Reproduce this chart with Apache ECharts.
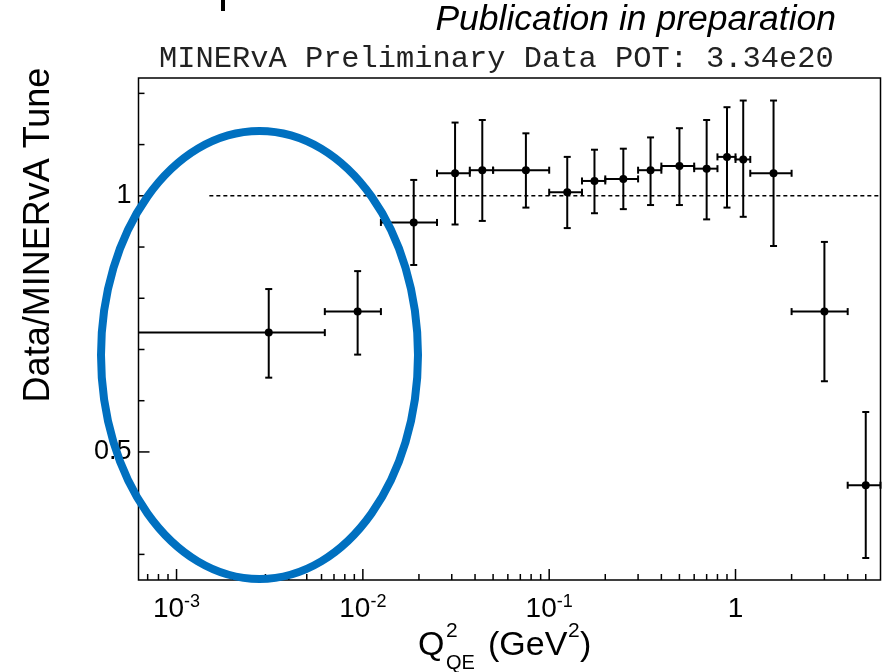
<!DOCTYPE html>
<html><head><meta charset="utf-8">
<script src="https://cdn.jsdelivr.net/npm/echarts@6/dist/echarts.min.js"></script>
<style>html,body{margin:0;padding:0;background:#fff}#c{width:884px;height:672px}</style>
</head><body><div id="c"></div>
<script>
// ---- data ----
const binLow    = [0, 0.00625, 0.0125, 0.025, 0.0375, 0.05, 0.1, 0.15, 0.2, 0.3, 0.4, 0.6, 0.8, 1.0, 1.2, 2.0, 4.0];
const binHigh   = [0.00625, 0.0125, 0.025, 0.0375, 0.05, 0.1, 0.15, 0.2, 0.3, 0.4, 0.6, 0.8, 1.0, 1.2, 2.0, 4.0, 6.0];
const binCenter = [0.003125, 0.009375, 0.01875, 0.03125, 0.04375, 0.075, 0.125, 0.175, 0.25, 0.35, 0.5, 0.7, 0.9, 1.1, 1.6, 3.0, 5.0];
const ratio     = [0.733, 0.774, 0.948, 1.044, 1.050, 1.050, 1.007, 1.029, 1.033, 1.050, 1.058, 1.053, 1.076, 1.071, 1.044, 0.774, 0.435];
const ratioHigh = [0.818, 0.853, 1.031, 1.143, 1.148, 1.122, 1.076, 1.090, 1.092, 1.114, 1.132, 1.148, 1.173, 1.186, 1.186, 0.910, 0.578];
const ratioLow  = [0.645, 0.690, 0.865, 0.944, 0.951, 0.977, 0.937, 0.966, 0.974, 0.982, 0.982, 0.954, 0.977, 0.959, 0.902, 0.638, 0.293];
const refLine   = [[0.0015, 1], [6, 1]];
const xMajorTicks = [0.001, 0.01, 0.1, 1];
const xMinorTicks = [0.0007, 0.0008, 0.0009,
  0.002, 0.003, 0.004, 0.005, 0.006, 0.007, 0.008, 0.009,
  0.02, 0.03, 0.04, 0.05, 0.06, 0.07, 0.08, 0.09,
  0.2, 0.3, 0.4, 0.5, 0.6, 0.7, 0.8, 0.9,
  2, 3, 4, 5];
const yMajorTicks = [0.5, 1];
const yMinorTicks = [0.3, 0.4, 0.6, 0.7, 0.8, 0.9, 1.1, 1.2];
const yLabels = ['0.5', '1'];
const X_MIN = 0.000625, X_MAX = 6, Y_MIN = 0.25, Y_MAX = 1.23;

const chart = echarts.init(document.getElementById('c'), null, {renderer: 'canvas'});
const SANS = '"Liberation Sans", Arial, sans-serif';

const pointData = binCenter.map((c, i) => [c, ratio[i], ratioLow[i], ratioHigh[i], binLow[i], binHigh[i]]);
const xTickData = xMajorTicks.map(v => [v, 1, 1]).concat(xMinorTicks.map(v => [v, 1, 0]));
const yTickData = yMajorTicks.map(v => [1, v, 1]).concat(yMinorTicks.map(v => [1, v, 0]));

const option = {
  backgroundColor: '#fff',
  animation: false,
  grid: {left: 138.5, top: 78, width: 742, height: 502, show: true, borderColor: '#000', borderWidth: 1.5, backgroundColor: 'transparent'},
  xAxis: {
    type: 'log', logBase: 10, min: X_MIN, max: X_MAX,
    axisLine: {show: false}, axisTick: {show: false}, splitLine: {show: false}, minorTick: {show: false},
    axisLabel: {
      margin: 13, color: '#000', showMinLabel: false, showMaxLabel: false,
      formatter: v => {
        const e = Math.log10(v), r = Math.round(e);
        if (Math.abs(e - r) > 1e-6) return '';
        if (r === 0) return '{b|1}';
        return '{b|10}{s|' + r + '}';
      },
      rich: {
        b: {fontSize: 28, fontFamily: SANS, color: '#000', lineHeight: 32},
        s: {fontSize: 18, fontFamily: SANS, color: '#000', verticalAlign: 'top', lineHeight: 19}
      }
    }
  },
  yAxis: {
    type: 'value', min: Y_MIN, max: Y_MAX, interval: 0.25,
    axisLine: {show: false}, axisTick: {show: false}, splitLine: {show: false},
    axisLabel: {
      margin: 7, color: '#000', fontSize: 27, fontFamily: SANS,
      formatter: v => {
        for (let i = 0; i < yMajorTicks.length; i++) if (Math.abs(v - yMajorTicks[i]) < 1e-9) return yLabels[i];
        return '';
      }
    }
  },
  series: [
    {
      type: 'line', data: refLine, symbol: 'none', silent: true, z: 2,
      lineStyle: {color: '#000', width: 1.5, type: [4, 3]}
    },
    {
      type: 'custom', data: xTickData, silent: true, z: 3, clip: false,
      renderItem: (params, api) => {
        const p = api.coord([api.value(0), api.value(1)]);
        const cs = params.coordSys;
        const bottom = cs.y + cs.height;
        const len = api.value(2) ? 11 : 6;
        return {type: 'line', shape: {x1: p[0], y1: bottom, x2: p[0], y2: bottom - len}, style: {stroke: '#000', lineWidth: 1.5}};
      }
    },
    {
      type: 'custom', data: yTickData, silent: true, z: 3, clip: false,
      renderItem: (params, api) => {
        const p = api.coord([api.value(0), api.value(1)]);
        const cs = params.coordSys;
        const len = api.value(2) ? 11 : 6;
        return {type: 'line', shape: {x1: cs.x, y1: p[1], x2: cs.x + len, y2: p[1]}, style: {stroke: '#000', lineWidth: 1.5}};
      }
    },
    {
      type: 'custom', data: pointData, silent: true, z: 5, clip: false,
      renderItem: (params, api) => {
        const cs = params.coordSys;
        const xc = api.value(0), yv = api.value(1);
        const c = api.coord([xc, yv]);
        const yLo = api.coord([xc, api.value(2)])[1];
        const yHi = api.coord([xc, api.value(3)])[1];
        const lowIn = api.value(4) >= X_MIN;
        const xl = lowIn ? api.coord([api.value(4), yv])[0] : cs.x;
        const xr = api.coord([api.value(5), yv])[0];
        const st = {stroke: '#000', lineWidth: 2};
        const ch = [
          {type: 'line', shape: {x1: c[0], y1: yLo, x2: c[0], y2: yHi}, style: st},
          {type: 'line', shape: {x1: xl, y1: c[1], x2: xr, y2: c[1]}, style: st},
          {type: 'line', shape: {x1: c[0] - 3.5, y1: yLo, x2: c[0] + 3.5, y2: yLo}, style: st},
          {type: 'line', shape: {x1: c[0] - 3.5, y1: yHi, x2: c[0] + 3.5, y2: yHi}, style: st},
          {type: 'line', shape: {x1: xr, y1: c[1] - 3.5, x2: xr, y2: c[1] + 3.5}, style: st},
          {type: 'circle', shape: {cx: c[0], cy: c[1], r: 4}, style: {fill: '#000'}}
        ];
        if (lowIn) ch.push({type: 'line', shape: {x1: xl, y1: c[1] - 3.5, x2: xl, y2: c[1] + 3.5}, style: st});
        return {type: 'group', children: ch};
      }
    }
  ],
  graphic: [
    {type: 'text', x: 836, y: 20, z: 50,
     style: {text: 'Publication in preparation', font: 'italic 35.5px ' + SANS, fill: '#000', align: 'right', verticalAlign: 'middle'}},
    {type: 'text', x: 159, y: 59, z: 50,
     style: {text: 'MINERvA Preliminary Data POT: 3.34e20', font: '30.4px "Liberation Mono", monospace', fill: '#222', align: 'left', verticalAlign: 'middle'}},
    {type: 'text', x: 39, y: 235, rotation: Math.PI / 2, z: 50,
     style: {text: 'Data/MINERvA Tune', font: '36px ' + SANS, fill: '#000', align: 'center', verticalAlign: 'middle'}},
    {type: 'text', x: 418, y: 646, z: 50,
     style: {text: 'Q', font: '34px ' + SANS, fill: '#000', align: 'left', verticalAlign: 'middle'}},
    {type: 'text', x: 446, y: 631, z: 50,
     style: {text: '2', font: '21px ' + SANS, fill: '#000', align: 'left', verticalAlign: 'middle'}},
    {type: 'text', x: 446, y: 663, z: 50,
     style: {text: 'QE', font: '20px ' + SANS, fill: '#000', align: 'left', verticalAlign: 'middle'}},
    {type: 'text', x: 488, y: 646, z: 50,
     style: {text: '(GeV', font: '34px ' + SANS, fill: '#000', align: 'left', verticalAlign: 'middle'}},
    {type: 'text', x: 568, y: 631, z: 50,
     style: {text: '2', font: '21px ' + SANS, fill: '#000', align: 'left', verticalAlign: 'middle'}},
    {type: 'text', x: 580, y: 646, z: 50,
     style: {text: ')', font: '34px ' + SANS, fill: '#000', align: 'left', verticalAlign: 'middle'}},
    {type: 'rect', shape: {x: 221, y: 0, width: 4, height: 11}, style: {fill: '#000'}, z: 50},
    {type: 'ellipse', shape: {cx: 259.5, cy: 355, rx: 158.5, ry: 224}, style: {fill: null, stroke: '#0070C0', lineWidth: 8}, z: 100}
  ]
};
chart.setOption(option);
</script>
</body></html>
